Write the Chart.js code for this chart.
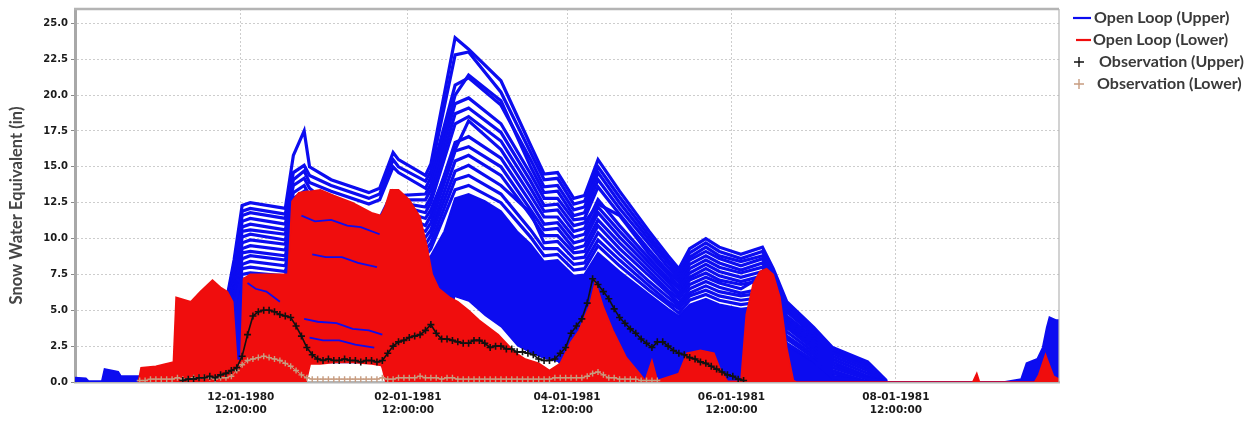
<!DOCTYPE html>
<html>
<head>
<meta charset="utf-8">
<title>Snow Water Equivalent - Water Year 1981</title>
<script src="https://cdn.jsdelivr.net/npm/chart.js@4.4.1/dist/chart.umd.min.js"></script>
<style>
  html, body { margin: 0; padding: 0; background: #ffffff; }
  canvas { display: block; }
</style>
</head>
<body>
<canvas id="swe" width="1249" height="424"></canvas>
<script>
// x values are days since 1980-10-01 00:00 (start of water year 1981)
const xTickDays  = [61.5, 123.5, 182.5, 243.5, 304.5];
const xTickDates = ['12-01-1980', '02-01-1981', '04-01-1981', '06-01-1981', '08-01-1981'];
const xTickTimes = ['12:00:00', '12:00:00', '12:00:00', '12:00:00', '12:00:00'];
const yTicks     = [0, 2.5, 5, 7.5, 10, 12.5, 15, 17.5, 20, 22.5, 25];

const legendLabels = ['Open Loop (Upper)', 'Open Loop (Lower)', 'Observation (Upper)', 'Observation (Lower)'];

// ---- Open loop ensemble, upper elevation zone (inches SWE) ----
const memberDays = [50,56,59,62,65,78,81,85,87,95,109,113,118,120,130,132,141,146,158,169,174,179,185,189,194,202,213,220,224,228,234,239,247,255,259,264,274,281,294,301];

const olUpper01 = [0.5,5.5,8.5,12.3,12.5, 12.1,15.8,17.5,15.0,14.1, 13.2,13.5,16.0,15.5,14.4, 15.2,24.0,23.2,21.0,16.5, 14.5,14.6,12.8,13.0,15.5, 13.3,10.5,8.8,7.9,9.3, 10.0,9.4,8.9,9.4,7.9, 5.6,3.8,2.4,1.4,0.1];
const olUpper02 = [0.5,5.3,8.2,11.9,12.1, 11.7,14.6,15.1,14.4,13.7, 12.8,13.1,15.5,15.0,14.0, 14.7,22.8,23.0,20.2,16.0, 14.1,14.2,12.4,12.6,15.0, 12.9,10.2,8.5,7.7,9.0, 9.7,9.1,8.6,9.1,7.7, 5.4,3.7,2.3,1.3,0];
const olUpper03 = [0.5,5.2,8.0,11.6,11.8, 11.4,14.1,14.7,13.9,13.3, 12.4,12.7,15.0,14.6,13.5, 14.3,20.7,21.2,19.3,15.5, 13.6,13.7,12.0,12.2,14.6, 12.5,9.9,8.3,7.4,8.7, 9.4,8.8,8.4,8.8,7.4, 5.3,3.6,2.2,1.2,0];
const olUpper04 = [0.4,5.0,7.7,11.2,11.4, 11.0,13.7,14.2,13.5,12.3, 11.3,11.4,13.3,13.0,13.1, 13.8,20.0,21.4,19.6,15.0, 13.2,13.3,11.6,11.8,14.1, 12.1,9.6,8.0,7.2,8.5, 9.1,8.6,8.1,8.6,7.2, 5.1,3.4,2.1,1.1,0];
const olUpper05 = [0.4,4.8,7.5,10.8,11.0, 10.6,13.2,13.7,13.0,11.9, 11.0,11.1,13.0,12.7,12.7, 13.4,19.4,19.8,18.0,14.5, 12.8,12.8,11.3,11.4,13.6, 11.7,9.2,7.7,7.0,8.2, 8.8,8.3,7.8,8.3,7.0, 4.9,3.3,2.0,1.0,0];
const olUpper06 = [0.4,4.7,7.2,10.5,10.6, 10.3,12.8,13.3,12.6,12.0, 10.8,10.9,12.8,12.5,12.2, 12.9,18.7,19.1,17.4,14.0, 12.3,12.4,10.9,11.1,12.4, 11.6,8.9,7.5,6.7,7.9, 8.5,8.0,7.6,8.0,6.7, 4.6,3.1,1.8,0.8,0];
const olUpper07 = [0.4,4.5,7.0,10.1,10.3, 9.9,12.3,12.8,12.1,11.6, 10.8,11.1,12.6,12.3,11.8, 12.5,18.0,18.5,16.8,13.5, 11.9,12.0,10.5,10.7,12.7, 10.9,8.6,7.2,6.5,7.6, 8.2,7.7,7.3,7.7,6.5, 4.4,2.9,1.6,0.6,0];
const olUpper08 = [0.4,4.3,6.7,9.7,9.9, 9.6,11.9,12.3,11.7,11.1, 10.4,10.7,12.3,12.0,11.4, 12.0,16.2,18.2,16.2,13.0, 11.5,11.5,10.1,10.3,12.2, 10.5,8.3,7.0,6.2,7.3, 7.9,7.4,7.0,7.4,6.2, 4.2,2.7,1.4,0.4,0];
const olUpper09 = [0.4,4.2,6.5,9.3,9.5, 9.2,11.4,11.9,11.2,10.7, 10.0,10.3,12.2,11.8,10.9, 11.6,16.7,17.1,15.6,12.5, 11.0,11.1,9.7,9.9,11.8, 10.1,8.0,6.7,6.0,7.1, 7.6,7.1,6.8,7.1,6.0, 4.0,2.5,1.2,0.3,0];
const olUpper10 = [0.3,4.0,6.2,9.0,9.1, 8.8,11.0,11.4,10.8,10.3, 9.6,9.9,11.7,11.3,10.5, 11.1,16.1,16.4,15.0,12.0, 10.6,10.7,9.3,9.5,11.3, 9.7,7.7,6.4,5.8,6.8, 7.3,6.9,6.5,7.4,6.6, 3.8,2.3,1.0,0.2,0];
const olUpper11 = [0.3,3.9,6.0,8.6,8.8, 8.5,10.5,10.9,10.4,9.9, 9.2,9.5,11.2,10.9,10.1, 10.6,15.4,15.8,14.4,11.6, 10.2,10.2,9.0,9.1,10.9, 9.3,7.4,6.2,5.5,6.5, 7.0,6.6,6.2,6.5,5.4, 3.5,2.1,0.8,0,0];
const olUpper12 = [0.3,3.7,5.7,8.2,8.4, 8.1,10.1,10.5,9.9,9.4, 8.8,9.0,10.7,10.4,9.6, 10.2,14.7,15.1,13.7,11.8, 9.7,9.8,8.6,8.7,10.4, 8.9,7.0,5.9,5.3,6.2, 6.7,6.3,6.0,6.2,5.1, 3.2,1.9,0.6,0,0];
const olUpper13 = [0.3,3.5,5.4,7.9,8.0, 7.7,9.6,10.0,9.5,9.0, 8.4,8.6,10.2,9.9,9.2, 9.7,14.1,14.4,13.1,10.6, 9.3,9.3,8.2,8.3,9.9, 8.5,6.7,5.6,5.1,6.0, 6.4,6.0,5.7,5.9,4.8, 3.0,1.7,0.4,0,0];
const olUpper14 = [0.3,3.4,5.2,7.5,7.6, 7.4,9.2,9.5,9.0,8.6, 8.1,8.2,9.8,9.5,8.8, 9.3,13.4,13.7,12.5,10.1, 8.8,8.9,7.8,7.9,9.5, 8.1,6.4,5.4,4.8,5.7, 6.1,5.7,5.4,5.6,4.5, 2.7,1.5,0.3,0,0];

// densely packed lower part of the upper-zone ensemble (band between blueLow and blueCore)
const coreDays  = [0,4,5,10,11, 16,17,24,25,50, 56,59,62,65,78, 81,85,87,95,109, 113,118,120,130,132, 137,141,146,152,158, 164,169,174,179,185, 189,194,202,213,220, 224,228,234,239,247, 255,259,264,274,281, 294,301,345,351,353, 357,359,360.5,361.5,364, 365];
const blueCore  = [0.3,0.25,0.05,0.05,0.9, 0.7,0.4,0.4,0.6,1.0, 3.2,5.0,7.2,7.3,7.1, 8.8,9.1,8.6,8.2,7.7, 7.8,9.3,9.0,8.4,8.8, 10.5,12.8,13.1,12.6,11.9, 10.5,9.6,8.4,8.5,7.4, 7.5,9.0,7.7,6.1,5.1, 4.6,5.4,5.8,5.4,5.1, 5.3,4.3,2.6,1.4,0.3, 0,0,0,0.2,1.3, 1.6,2.4,3.8,4.5,4.3, 4.3];
const blueLow   = [0,0,0,0,0, 0,0,0,0,0, 0,0,0,0,0, 0,0,1.3,1.3,1.3, 1.2,0,0,0,0, 0,5.9,5.6,4.6,3.8, 2.5,2.0,1.6,1.4,0, 0,0,0,0,0, 0,0,0,0,0, 0,0,0,0,0, 0,0,0,0,0, 0,0,0,0,0, 0];

// a few upper-zone members that run through the lower-zone band in Dec-Jan
const traceDaysA = [84, 89, 95, 101, 106, 113];
const traceValsA = [11.6, 11.2, 11.3, 10.9, 10.8, 10.3];
const traceDaysB = [88, 93, 99, 105, 112];
const traceValsB = [8.9, 8.7, 8.7, 8.3, 8.0];
const traceDaysC = [85, 90, 97, 103, 109, 114];
const traceValsC = [4.4, 4.2, 4.1, 3.7, 3.6, 3.3];
const traceDaysD = [87, 92, 98, 104, 111];
const traceValsD = [3.1, 2.9, 2.9, 2.6, 2.4];
const traceDaysE = [64, 67, 71, 76];
const traceValsE = [6.9, 6.5, 6.3, 5.6];

// ---- Open loop ensemble, lower elevation zone: envelope of all members ----
const redDays = [23.5,24.5,30,36.5,37.5, 43,46.5,51,54,56.5, 58.5,60,61.5,62.5,65, 79,80.5,83,86,87.5, 91,96,103,110,113.5, 115,117,120,124,128, 130.5,132.5,135,139,142, 146,150,157,163,167, 172,176,180,184,187, 191,193,196,199.5,204.5, 208.5,211.5,214,216,224, 227,232,237,239.5,242, 247,249,251.5,254,256.5, 259,261.5,264,266.5,267.5, 333,334.5,335.5,356,357.5, 360,361,363,365];
const redTop  = [0,1.0,1.1,1.4,5.9, 5.6,6.3,7.1,6.6,6.3, 5.6,1.5,1.5,7.2,7.5, 7.5,12.6,13.2,13.3,13.3, 13.4,13.0,12.5,11.8,11.6, 12.2,13.4,13.4,12.7,11.5, 9.5,7.5,6.5,5.9,5.6, 5.0,4.3,3.3,2.1,1.6, 1.3,0.8,1.3,2.8,3.6, 5.4,7.0,5.2,3.6,1.7, 0.8,0.1,1.5,0.1,0.6, 2.0,2.2,2.0,0.8,0.05, 0.05,4.7,6.8,7.7,7.9, 7.5,5.9,2.4,0.1,0, 0,0.6,0,0,0.5, 1.9,1.4,0.4,0.2];
const redLow  = [0,0,0,0,0, 0,0,0,0,0, 0,0,0,0,0, 0,0,0,0,1.2, 1.2,1.3,1.3,1.2,1.1, 0,0,0,0,0, 0,0,0,0,0, 0,0,0,0,0, 0,0,0,0,0, 0,0,0,0,0, 0,0,0,0,0, 0,0,0,0,0, 0,0,0,0,0, 0,0,0,0,0, 0,0,0,0,0, 0,0,0,0];

// ---- Observed SWE, one value every 2 days ----
const obsUpperStartDay = 40;
const obsUpper = [
  0.1,0.2,0.2,0.3,0.3,0.4,0.3,0.5,0.6,0.8,
  1.0,1.8,3.3,4.6,4.9,5.0,5.0,4.9,4.7,4.6,
  4.5,3.9,3.2,2.4,1.9,1.6,1.5,1.6,1.5,1.5,
  1.6,1.5,1.5,1.4,1.5,1.5,1.4,1.5,2.0,2.5,
  2.8,2.9,3.1,3.2,3.3,3.6,4.0,3.4,3.0,3.0,
  2.9,2.8,2.7,2.7,2.9,2.9,2.7,2.4,2.5,2.5,
  2.3,2.3,2.1,2.1,2.0,1.9,1.6,1.5,1.5,1.6,
  2.0,2.4,3.4,3.9,4.4,5.5,7.2,6.8,6.3,5.8,
  5.1,4.5,4.1,3.7,3.4,3.0,2.7,2.4,2.8,2.8,
  2.5,2.2,2.0,1.9,1.7,1.6,1.4,1.3,1.1,0.9,
  0.7,0.5,0.4,0.2,0.1
];
const obsLowerStartDay = 24;
const obsLower = [
  0.1,0.1,0.2,0.2,0.2,0.2,0.2,0.3,0.2,0.2,
  0.3,0.3,0.3,0.3,0.2,0.3,0.3,0.4,0.8,1.2,
  1.5,1.6,1.7,1.8,1.7,1.6,1.5,1.3,1.1,0.8,
  0.5,0.3,0.2,0.2,0.2,0.2,0.2,0.2,0.2,0.2,
  0.2,0.2,0.2,0.2,0.2,0.3,0.2,0.2,0.3,0.3,
  0.3,0.3,0.4,0.3,0.3,0.3,0.2,0.3,0.3,0.2,
  0.2,0.2,0.2,0.2,0.2,0.2,0.2,0.2,0.2,0.2,
  0.2,0.2,0.2,0.2,0.2,0.2,0.2,0.3,0.3,0.3,
  0.3,0.3,0.3,0.4,0.6,0.7,0.5,0.3,0.3,0.2,
  0.2,0.2,0.2,0.1,0.1,0.1,0.1
];
const obsStepDays = 2;

// ---------------------------------------------------------------
const BLUE = '#0c0cf0';
const RED  = '#f00d0d';
const OBS_UPPER = '#111111';
const OBS_LOWER = '#c79c80';

const upperMembers = [olUpper01, olUpper02, olUpper03, olUpper04, olUpper05, olUpper06, olUpper07,
                      olUpper08, olUpper09, olUpper10, olUpper11, olUpper12, olUpper13, olUpper14];

function pts(days, vals) { return days.map((d, i) => ({ x: d, y: vals[i] })); }
function seriesPts(start, step, vals) { return vals.map((v, i) => ({ x: start + i * step, y: v })); }

const datasets = [];
function add(cfg) {
  datasets.push(Object.assign({ pointRadius: 0, pointHoverRadius: 0, fill: false, tension: 0 }, cfg));
  return datasets.length - 1;
}

const iBlueLow = add({ data: pts(coreDays, blueLow), borderWidth: 0, borderColor: 'rgba(0,0,0,0)', order: 100 });
add({ label: legendLabels[0], data: pts(coreDays, blueCore), borderColor: BLUE, backgroundColor: BLUE,
      borderWidth: 2, fill: { target: iBlueLow }, order: 90 });
upperMembers.forEach((vals, k) => add({ data: pts(memberDays, vals), borderColor: BLUE, borderWidth: 3.2, order: 80 - k }));

const iRedLow = add({ data: pts(redDays, redLow), borderWidth: 0, borderColor: 'rgba(0,0,0,0)', order: 50 });
add({ label: legendLabels[1], data: pts(redDays, redTop), borderColor: RED, backgroundColor: RED,
      borderWidth: 1.6, fill: { target: iRedLow }, order: 40 });

[[traceDaysA, traceValsA], [traceDaysB, traceValsB], [traceDaysC, traceValsC],
 [traceDaysD, traceValsD], [traceDaysE, traceValsE]].forEach(([d, v]) =>
  add({ data: pts(d, v), borderColor: BLUE, borderWidth: 1.8, order: 30 }));

add({ label: legendLabels[3], data: seriesPts(obsLowerStartDay, obsStepDays, obsLower),
      borderColor: OBS_LOWER, borderWidth: 1, pointStyle: 'cross', pointRadius: 3,
      pointBorderColor: OBS_LOWER, pointBorderWidth: 1.4, order: 20 });
add({ label: legendLabels[2], data: seriesPts(obsUpperStartDay, obsStepDays, obsUpper),
      borderColor: OBS_UPPER, borderWidth: 1.6, pointStyle: 'cross', pointRadius: 3.5,
      pointBorderColor: OBS_UPPER, pointBorderWidth: 1.6, order: 10 });

// gray frame along the top and right edges of the plot area
const plotFrame = {
  id: 'plotFrame',
  afterDraw(chart) {
    const { ctx, chartArea: a } = chart;
    ctx.save();
    ctx.strokeStyle = '#b4b4b4';
    ctx.lineWidth = 2.5;
    ctx.beginPath(); ctx.moveTo(a.left - 1, a.top); ctx.lineTo(a.right, a.top); ctx.stroke();
    ctx.lineWidth = 1.2;
    ctx.beginPath(); ctx.moveTo(a.right, a.top); ctx.lineTo(a.right, a.bottom); ctx.stroke();
    ctx.restore();
  }
};

// series key to the right of the plot
const seriesKey = {
  id: 'seriesKey',
  afterDraw(chart) {
    const { ctx, chartArea: a } = chart;
    const colors = [BLUE, RED, OBS_UPPER, OBS_LOWER];
    const kinds  = ['line', 'line', 'cross', 'cross'];
    const textDx = [35, 34, 40, 38];
    ctx.save();
    ctx.font = 'bold 16px Lato';
    ctx.textBaseline = 'middle';
    legendLabels.forEach((label, i) => {
      const y = 18 + i * 22;
      ctx.strokeStyle = colors[i];
      if (kinds[i] === 'line') {
        ctx.lineWidth = 2.2;
        ctx.beginPath();
        ctx.moveTo(a.right + (i === 0 ? 14 : 17), y);
        ctx.lineTo(a.right + 32, y);
        ctx.stroke();
      } else {
        const cx = a.right + 20;
        ctx.lineWidth = 1.4;
        ctx.beginPath();
        ctx.moveTo(cx - 5, y); ctx.lineTo(cx + 5, y);
        ctx.moveTo(cx, y - 5); ctx.lineTo(cx, y + 5);
        ctx.stroke();
      }
      ctx.fillStyle = '#3a3a3a';
      ctx.fillText(label, a.right + textDx[i], y);
    });
    ctx.restore();
  }
};

new Chart(document.getElementById('swe'), {
  type: 'line',
  data: { datasets },
  plugins: [plotFrame, seriesKey],
  options: {
    responsive: false,
    animation: false,
    devicePixelRatio: 1,
    events: [],
    layout: { padding: { top: 5, right: 190, left: 0, bottom: 0 } },
    plugins: { legend: { display: false }, tooltip: { enabled: false } },
    scales: {
      x: {
        type: 'linear',
        min: 0,
        max: 365,
        afterBuildTicks: s => { s.ticks = xTickDays.map(v => ({ value: v })); },
        afterFit: s => { s.height = 42; },
        ticks: {
          autoSkip: false,
          maxRotation: 0,
          padding: 9,
          color: '#1a1a1a',
          font: { family: 'DejaVu Sans', weight: 'bold', size: 10.5, lineHeight: 1.2 },
          callback: v => { const i = xTickDays.indexOf(v); return [xTickDates[i], xTickTimes[i]]; }
        },
        grid: { color: '#cdcdcd', lineWidth: 1, drawTicks: false },
        border: { display: true, color: '#b4b4b4', width: 2.5, dash: [2, 2] }
      },
      y: {
        min: 0,
        max: 26,
        afterBuildTicks: s => { s.ticks = yTicks.map(v => ({ value: v })); },
        afterFit: s => { s.width = 75; },
        ticks: {
          padding: 3,
          color: '#1a1a1a',
          font: { family: 'DejaVu Sans', weight: 'bold', size: 10 },
          callback: v => v.toFixed(1)
        },
        grid: { color: '#cdcdcd', lineWidth: 1, tickLength: 4, tickColor: '#8a8a8a', tickWidth: 1 },
        border: { display: true, color: '#a8a8a8', width: 3, dash: [2, 2] },
        title: {
          display: true,
          text: 'Snow Water Equivalent (in)\u00a0\u00a0\u00a0\u00a0\u00a0',
          color: '#454545',
          font: { family: 'Lato', weight: 'bold', size: 16.5 },
          padding: { top: 7, bottom: 0 }
        }
      }
    }
  }
});
</script>
</body>
</html>
